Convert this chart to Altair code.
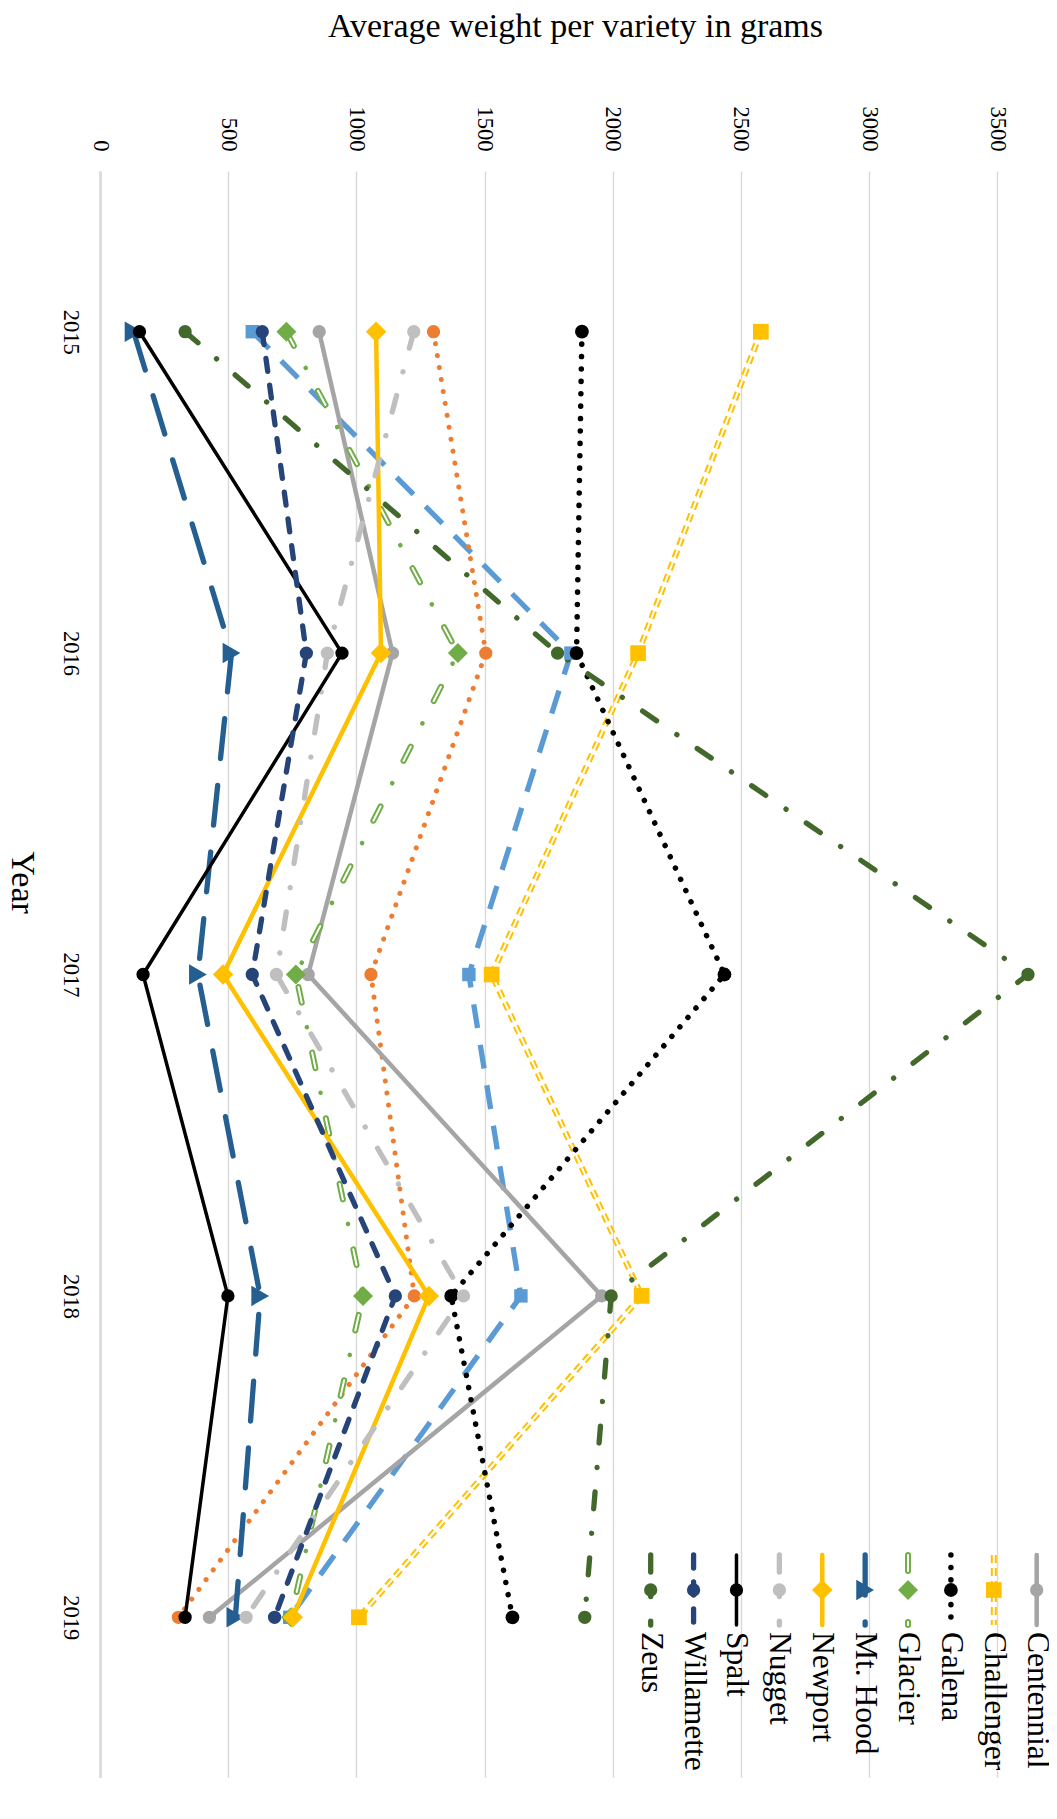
import altair as alt
import pandas as pd

# ---------------- data ----------------
years = [2015, 2016, 2017, 2018, 2019]

series_1 = [594, 1837, 1439, 1642, 740]        # light blue (legend entry cut off)
series_2 = [1301, 1505, 1057, 1226, 306]       # orange (legend entry cut off)
centennial = [855, 1141, 812, 1957, 427]
challenger = [2578, 2099, 1528, 2113, 1010]
galena = [1880, 1859, 2436, 1370, 1609]
glacier = [727, 1396, 764, 1026, 745]
mt_hood = [131, 513, 382, 625, 528]
newport = [1077, 1096, 480, 1283, 752]
nugget = [1224, 887, 688, 1418, 570]
spalt = [154, 944, 168, 499, 332]
willamette = [633, 805, 594, 1152, 681]
zeus = [332, 1785, 3620, 1994, 1891]

series_names = ["Series 1", "Series 2", "Centennial", "Challenger", "Galena", "Glacier",
                "Mt. Hood", "Newport", "Nugget", "Spalt", "Willamette", "Zeus"]
series_values = [series_1, series_2, centennial, challenger, galena, glacier,
                 mt_hood, newport, nugget, spalt, willamette, zeus]

legend_names = ["Zeus", "Willamette", "Spalt", "Nugget", "Newport", "Mt. Hood",
                "Glacier", "Galena", "Challenger", "Centennial"]

weight_ticks = [0, 500, 1000, 1500, 2000, 2500, 3000, 3500]

rows = []
for name, vals in zip(series_names, series_values):
    for yr, v in zip(years, vals):
        rows.append({"series": name, "year": yr, "weight": v})
df = pd.DataFrame(rows)
ldf = pd.DataFrame({"name": legend_names})

# ---------------- styles ----------------
FONT = "Liberation Serif"
styles = {
    "Series 1": dict(color="#5B9BD5", width=5.3, dash=[24, 17], cap="butt", shape="square", size=180),
    "Series 2": dict(color="#ED7D31", width=5, dash=[0.1, 12], cap="round", shape="circle", size=177),
    "Centennial": dict(color="#A5A5A5", width=4.5, cap="round", shape="circle", size=177),
    "Challenger": dict(color="#FFC000", width=6, dash=[8, 5], cap="butt", shape="square", size=246, inner=2),
    "Galena": dict(color="#000000", width=5.5, dash=[0.1, 12.3], cap="round", shape="circle", size=190),
    "Glacier": dict(color="#70AD47", width=6, dash=[16, 51], cap="round", shape="diamond", size=400,
                    inner=2, dots=dict(width=4.5, dash=[0.1, 66.9], offset=26)),
    "Mt. Hood": dict(color="#255E91", width=5.3, dash=[40, 27], cap="round", shape="triangle-right", size=420),
    "Newport": dict(color="#FFC000", width=4.5, cap="round", shape="diamond", size=420),
    "Nugget": dict(color="#BFBFBF", width=5.3, dash=[17, 24.5, 0.1, 24.5], cap="round", shape="circle", size=177),
    "Spalt": dict(color="#000000", width=3.5, cap="round", shape="circle", size=177),
    "Willamette": dict(color="#264478", width=5.3, dash=[13, 14], cap="round", shape="circle", size=177),
    "Zeus": dict(color="#43682B", width=5.3, dash=[17, 24.5, 0.1, 24.5], cap="round", shape="circle", size=177),
}

W, H = 949, 1607
XMAX = 3702

X = alt.X(
    "weight:Q",
    scale=alt.Scale(domain=[0, XMAX], nice=False, zero=False),
    axis=alt.Axis(
        orient="top", values=weight_ticks, format="d", grid=True, gridColor="#D9D9D9",
        gridWidth=1.4, domain=False, ticks=False, tickSize=0, labelAngle=90,
        labelAlign="right", labelBaseline="middle", labelPadding=20, labelFontSize=22.5,
        labelFont=FONT, labelColor="black", labelFlush=False, labelOverlap=False,
        title="Average weight per variety in grams", titleFont=FONT, titleFontSize=34,
        titleFontWeight="normal", titleColor="black", titleAngle=0, titleAlign="center",
        titleBaseline="alphabetic", titleX=475, titleY=-135,
    ),
)
Y = alt.Y(
    "year:Q",
    scale=alt.Scale(domain=[2014.5, 2019.5], reverse=True, nice=False, zero=False),
    axis=alt.Axis(
        orient="left", values=years, format="d", grid=False, domain=True,
        domainColor="#D9D9D9", domainWidth=2.5, ticks=False, tickSize=0,
        labelAngle=90, labelAlign="center", labelBaseline="alphabetic", labelPadding=37,
        labelFontSize=22.5, labelFont=FONT, labelColor="black", labelFlush=False,
        labelOverlap=False,
        title="Year", titleFont=FONT, titleFontSize=34, titleFontWeight="normal",
        titleColor="black", titleAngle=90, titleAlign="center", titleBaseline="alphabetic",
        titleX=-89, titleY=711,
    ),
)
ORDER = alt.Order("year:Q")


def line_kwargs(st, color=None, width=None, dash=None, offset=None, join=True):
    kw = dict(color=color or st["color"], strokeWidth=width or st["width"],
              strokeCap=st.get("cap", "round"))
    if join:
        kw["strokeJoin"] = "round"
    d = dash if dash is not None else st.get("dash")
    if d is not None:
        kw["strokeDash"] = d
    if offset is not None:
        kw["strokeDashOffset"] = offset
    return kw


line_layers = []
point_layers = []
for name in series_names:
    st = styles[name]
    base = alt.Chart(df).transform_filter(alt.datum.series == name)
    line_layers.append(base.mark_line(**line_kwargs(st)).encode(x=X, y=Y, order=ORDER))
    if "inner" in st:
        line_layers.append(base.mark_line(**line_kwargs(st, color="white", width=st["inner"]))
                           .encode(x=X, y=Y, order=ORDER))
    if "dots" in st:
        dt = st["dots"]
        line_layers.append(base.mark_line(**line_kwargs(st, width=dt["width"], dash=dt["dash"],
                                                        offset=dt["offset"]))
                           .encode(x=X, y=Y, order=ORDER))
    point_layers.append(
        base.mark_point(shape=st["shape"], size=st["size"], filled=True, color=st["color"],
                        opacity=1, strokeWidth=0).encode(x=X, y=Y)
    )

main = alt.layer(*line_layers, *point_layers)

# ---------------- legend (rotated, drawn manually) ----------------
LX = alt.X("name:N", scale=alt.Scale(type="point", domain=legend_names, range=[550.7, 936.7],
                                     padding=0), axis=None)
leg_layers = []
for name in legend_names:
    st = styles[name]
    lb = alt.Chart(ldf).transform_filter(alt.datum.name == name)
    leg_layers.append(lb.mark_rule(**line_kwargs(st, join=False))
                      .encode(x=LX, y=alt.value(1384), y2=alt.value(1454)))
    if "inner" in st:
        leg_layers.append(lb.mark_rule(**line_kwargs(st, color="white", width=st["inner"], join=False))
                          .encode(x=LX, y=alt.value(1384), y2=alt.value(1454)))
    if "dots" in st:
        dt = st["dots"]
        leg_layers.append(lb.mark_rule(**line_kwargs(st, width=dt["width"], dash=dt["dash"],
                                                     offset=dt["offset"], join=False))
                          .encode(x=LX, y=alt.value(1384), y2=alt.value(1454)))
    leg_layers.append(lb.mark_point(shape=st["shape"], size=st["size"], filled=True,
                                    color=st["color"], opacity=1, strokeWidth=0)
                      .encode(x=LX, y=alt.value(1419)))
leg_layers.append(
    alt.Chart(ldf).mark_text(angle=90, align="left", baseline="middle", fontSize=31.5,
                             font=FONT, color="black")
    .encode(x=LX, y=alt.value(1461), text="name:N")
)
legend = alt.layer(*leg_layers)

chart = (
    alt.layer(main, legend)
    .resolve_scale(x="independent")
    .properties(
        width=W, height=H,
        padding={"left": 92, "top": 163, "right": 0, "bottom": 0},
        autosize=alt.AutoSizeParams(type="none"),
        background="white",
    )
    .configure_view(stroke=None)
)

chart.save("out.html", embed_options={"renderer": "svg", "actions": False})
